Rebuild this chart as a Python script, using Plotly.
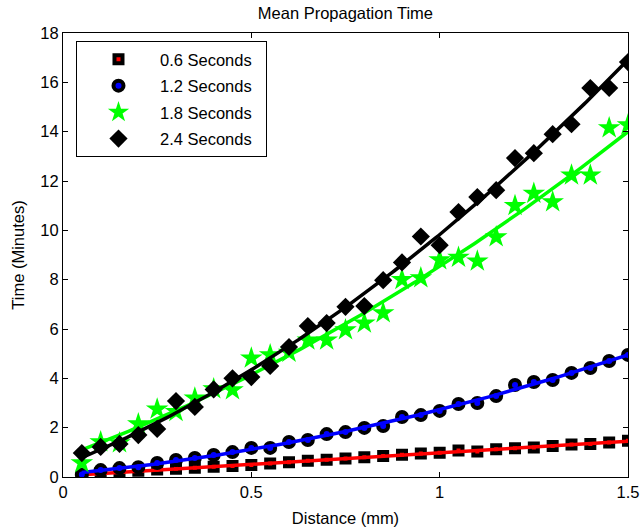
import numpy as np
import plotly.graph_objects as go

distance = [0.05, 0.10, 0.15, 0.20, 0.25, 0.30, 0.35, 0.40, 0.45, 0.50,
            0.55, 0.60, 0.65, 0.70, 0.75, 0.80, 0.85, 0.90, 0.95, 1.00,
            1.05, 1.10, 1.15, 1.20, 1.25, 1.30, 1.35, 1.40, 1.45, 1.50]

t_06 = [0.05, 0.15, 0.20, 0.25, 0.30, 0.33, 0.38, 0.42, 0.45, 0.49,
        0.55, 0.60, 0.66, 0.70, 0.75, 0.80, 0.85, 0.90, 0.95, 0.98,
        1.07, 1.03, 1.13, 1.17, 1.20, 1.26, 1.32, 1.34, 1.40, 1.47]

t_12 = [0.10, 0.28, 0.36, 0.40, 0.57, 0.69, 0.77, 0.89, 1.01, 1.18,
        1.18, 1.42, 1.50, 1.74, 1.82, 1.99, 2.07, 2.43, 2.51, 2.68,
        2.96, 3.00, 3.28, 3.73, 3.85, 3.93, 4.22, 4.42, 4.70, 4.95]

t_18 = [0.57, 1.42, 1.38, 2.15, 2.75, 2.65, 3.20, 3.57, 3.53, 4.82,
        4.95, 5.05, 5.55, 5.55, 5.96, 6.24, 6.65, 8.00, 8.07, 8.80,
        8.90, 8.75, 9.73, 11.00, 11.50, 11.15, 12.24, 12.24, 14.15, 14.27]

t_24 = [0.97, 1.22, 1.34, 1.70, 1.95, 3.08, 2.84, 3.55, 4.00, 4.05,
        4.50, 5.27, 6.12, 6.24, 6.90, 6.93, 7.98, 8.70, 9.75, 9.40,
        10.74, 11.35, 11.63, 12.93, 13.13, 13.90, 14.30, 15.77, 15.77, 16.82]

names = ["0.6 Seconds", "1.2 Seconds", "1.8 Seconds", "2.4 Seconds"]

x = np.array(distance)
xf = np.linspace(x.min(), x.max(), 200)

series = [
    (t_06, dict(symbol="square", size=8, color="red", line=dict(color="black", width=4)), "red"),
    (t_12, dict(symbol="circle", size=10, color="blue", line=dict(color="black", width=4)), "blue"),
    (t_18, dict(symbol="star", size=17, color="#00ff00", line=dict(width=0)), "#00ff00"),
    (t_24, dict(symbol="diamond", size=14, color="black", line=dict(width=0)), "black"),
]

fig = go.Figure()
for i, (ys, mk, lc) in enumerate(series):
    y = np.array(ys)
    coef = np.polyfit(x, y, 2)
    fig.add_trace(go.Scatter(x=x, y=y, mode="markers", marker=mk,
                             name=names[i] + "\u00a0\u00a0",
                             legendgroup=f"g{i}", showlegend=True))
    fig.add_trace(go.Scatter(x=xf, y=np.polyval(coef, xf), mode="lines",
                             line=dict(color=lc, width=3.5), showlegend=False,
                             legendgroup=f"g{i}", hoverinfo="skip"))

FS = 16.5
axis_common = dict(showline=True, linecolor="black", linewidth=1, mirror="ticks",
                   ticks="inside", ticklen=5, tickcolor="black", showgrid=False,
                   zeroline=False, automargin=False,
                   tickfont=dict(size=FS, color="black"))

fig.update_layout(
    width=642, height=531,
    margin=dict(l=63, r=14, t=33, b=54),
    paper_bgcolor="white", plot_bgcolor="white",
    font=dict(family="Liberation Sans, Arial, sans-serif", size=FS, color="black"),
    title=dict(text="Mean Propagation Time", x=0.538, xanchor="center",
               y=1 - 13 / 531, yanchor="middle", font=dict(size=FS)),
    xaxis=dict(range=[0, 1.5], tickvals=[0, 0.5, 1, 1.5], ticktext=["0", "0.5", "1", "1.5"],
               title=dict(text="Distance (mm)", standoff=12, font=dict(size=FS)), **axis_common),
    yaxis=dict(range=[0, 18], tickvals=list(range(0, 19, 2)),
               title=dict(text="Time (Minutes)", standoff=11, font=dict(size=FS)), **axis_common),
    legend=dict(x=0.023, y=0.982, xanchor="left", yanchor="top",
                bordercolor="black", borderwidth=1, bgcolor="white",
                font=dict(size=FS), traceorder="grouped", tracegroupgap=2,
                itemwidth=73),
    showlegend=True,
)

fig.write_html("out.html", config={"displayModeBar": False},
               post_script="document.body.style.margin='0';")
